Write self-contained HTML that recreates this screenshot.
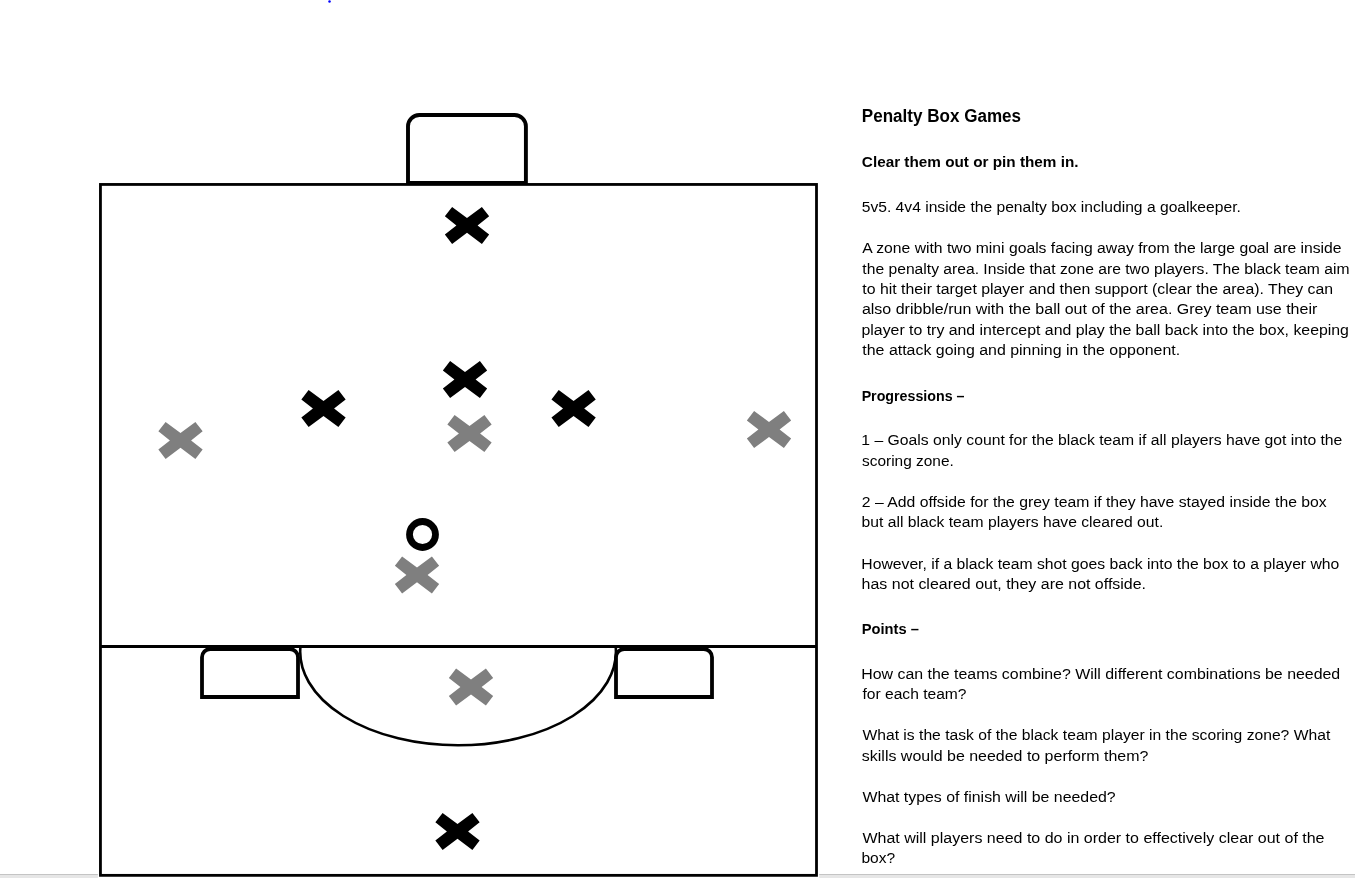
<!DOCTYPE html><html><head><meta charset="utf-8"><title>Penalty Box Games</title><style>
html,body{margin:0;padding:0;background:#fff;width:1355px;height:878px;overflow:hidden}
svg{position:absolute;left:0;top:0;display:block;will-change:transform}
text{font-family:"Liberation Sans",sans-serif;fill:#000}
.r{font-size:15.5px}.b{font-size:15.5px;font-weight:bold}.t{font-size:18px;font-weight:bold}
</style></head><body>
<svg width="1355" height="878" viewBox="0 0 1355 878">
<rect x="0" y="874" width="1355" height="4" fill="#e6e6e6"/>
<rect x="0" y="874" width="1355" height="1" fill="#c4c4c4"/>
<rect x="97.9" y="873" width="721.3" height="5" fill="#fff"/>
<circle cx="329.5" cy="1.6" r="1.25" fill="#0000ff"/>
<g fill="none" stroke="#000">
<rect x="100.45" y="184.45" width="716.05" height="690.9" stroke-width="2.8" fill="#fff"/>
<line x1="100" y1="646.4" x2="817" y2="646.4" stroke-width="3"/>
<path d="M300.44,646.4 A157.87,93.63 0 1 0 615.68,646.4" stroke-width="2.6"/>
<path d="M408.00,182.90 L408.00,126.30 A11.30,11.30 0 0 1 419.30,115.00 L514.60,115.00 A11.30,11.30 0 0 1 525.90,126.30 L525.90,182.90 Z" stroke-width="3.90" fill="#fff"/>
<path d="M202.00,697.00 L202.00,657.30 A8.30,8.30 0 0 1 210.30,649.00 L289.70,649.00 A8.30,8.30 0 0 1 298.00,657.30 L298.00,697.00 Z" stroke-width="3.80" fill="#fff"/>
<path d="M616.00,697.00 L616.00,657.30 A8.30,8.30 0 0 1 624.30,649.00 L703.70,649.00 A8.30,8.30 0 0 1 712.00,657.30 L712.00,697.00 Z" stroke-width="3.80" fill="#fff"/>
<circle cx="422.5" cy="534.5" r="13" stroke-width="6.8"/>
</g>
<path transform="translate(467.00,225.40)" d="M-22.15,-9.05 L-14.9,-18.5 L0,-7.45 L14.9,-18.5 L22.15,-9.05 L10.6,0 L22.15,9.05 L14.9,18.5 L0,7.45 L-14.9,18.5 L-22.15,9.05 L-10.6,0Z" fill="#000"/>
<path transform="translate(323.50,408.50)" d="M-22.15,-9.05 L-14.9,-18.5 L0,-7.45 L14.9,-18.5 L22.15,-9.05 L10.6,0 L22.15,9.05 L14.9,18.5 L0,7.45 L-14.9,18.5 L-22.15,9.05 L-10.6,0Z" fill="#000"/>
<path transform="translate(465.00,379.50)" d="M-22.15,-9.05 L-14.9,-18.5 L0,-7.45 L14.9,-18.5 L22.15,-9.05 L10.6,0 L22.15,9.05 L14.9,18.5 L0,7.45 L-14.9,18.5 L-22.15,9.05 L-10.6,0Z" fill="#000"/>
<path transform="translate(573.60,408.50)" d="M-22.15,-9.05 L-14.9,-18.5 L0,-7.45 L14.9,-18.5 L22.15,-9.05 L10.6,0 L22.15,9.05 L14.9,18.5 L0,7.45 L-14.9,18.5 L-22.15,9.05 L-10.6,0Z" fill="#000"/>
<path transform="translate(457.50,831.40)" d="M-22.15,-9.05 L-14.9,-18.5 L0,-7.45 L14.9,-18.5 L22.15,-9.05 L10.6,0 L22.15,9.05 L14.9,18.5 L0,7.45 L-14.9,18.5 L-22.15,9.05 L-10.6,0Z" fill="#000"/>
<path transform="translate(180.50,440.40)" d="M-22.15,-9.05 L-14.9,-18.5 L0,-7.45 L14.9,-18.5 L22.15,-9.05 L10.6,0 L22.15,9.05 L14.9,18.5 L0,7.45 L-14.9,18.5 L-22.15,9.05 L-10.6,0Z" fill="#7f7f7f"/>
<path transform="translate(469.50,433.50)" d="M-22.15,-9.05 L-14.9,-18.5 L0,-7.45 L14.9,-18.5 L22.15,-9.05 L10.6,0 L22.15,9.05 L14.9,18.5 L0,7.45 L-14.9,18.5 L-22.15,9.05 L-10.6,0Z" fill="#7f7f7f"/>
<path transform="translate(769.00,429.50)" d="M-22.15,-9.05 L-14.9,-18.5 L0,-7.45 L14.9,-18.5 L22.15,-9.05 L10.6,0 L22.15,9.05 L14.9,18.5 L0,7.45 L-14.9,18.5 L-22.15,9.05 L-10.6,0Z" fill="#7f7f7f"/>
<path transform="translate(417.00,574.90)" d="M-22.15,-9.05 L-14.9,-18.5 L0,-7.45 L14.9,-18.5 L22.15,-9.05 L10.6,0 L22.15,9.05 L14.9,18.5 L0,7.45 L-14.9,18.5 L-22.15,9.05 L-10.6,0Z" fill="#7f7f7f"/>
<path transform="translate(471.00,687.00)" d="M-22.15,-9.05 L-14.9,-18.5 L0,-7.45 L14.9,-18.5 L22.15,-9.05 L10.6,0 L22.15,9.05 L14.9,18.5 L0,7.45 L-14.9,18.5 L-22.15,9.05 L-10.6,0Z" fill="#7f7f7f"/>
<text class="t" x="861.81" y="122.00" textLength="159.21" lengthAdjust="spacingAndGlyphs">Penalty Box Games</text>
<text class="b" x="861.85" y="166.90" textLength="216.67" lengthAdjust="spacingAndGlyphs">Clear them out or pin them in.</text>
<text class="r" x="861.71" y="212.20" textLength="379.13" lengthAdjust="spacingAndGlyphs">5v5. 4v4 inside the penalty box including a goalkeeper.</text>
<text class="r" x="862.29" y="253.00" textLength="479.27" lengthAdjust="spacingAndGlyphs">A zone with two mini goals facing away from the large goal are inside</text>
<text class="r" x="862.39" y="273.50" textLength="487.12" lengthAdjust="spacingAndGlyphs">the penalty area. Inside that zone are two players. The black team aim</text>
<text class="r" x="862.35" y="294.00" textLength="470.82" lengthAdjust="spacingAndGlyphs">to hit their target player and then support (clear the area). They can</text>
<text class="r" x="861.92" y="314.30" textLength="455.40" lengthAdjust="spacingAndGlyphs">also dribble/run with the ball out of the area. Grey team use their</text>
<text class="r" x="861.49" y="334.70" textLength="487.46" lengthAdjust="spacingAndGlyphs">player to try and intercept and play the ball back into the box, keeping</text>
<text class="r" x="862.35" y="355.30" textLength="317.81" lengthAdjust="spacingAndGlyphs">the attack going and pinning in the opponent.</text>
<text class="b" x="861.64" y="401.00" textLength="102.90" lengthAdjust="spacingAndGlyphs">Progressions –</text>
<text class="r" x="861.31" y="445.00" textLength="481.09" lengthAdjust="spacingAndGlyphs">1 – Goals only count for the black team if all players have got into the</text>
<text class="r" x="862.05" y="465.70" textLength="91.73" lengthAdjust="spacingAndGlyphs">scoring zone.</text>
<text class="r" x="861.81" y="506.60" textLength="464.90" lengthAdjust="spacingAndGlyphs">2 – Add offside for the grey team if they have stayed inside the box</text>
<text class="r" x="861.59" y="527.40" textLength="301.68" lengthAdjust="spacingAndGlyphs">but all black team players have cleared out.</text>
<text class="r" x="861.34" y="568.50" textLength="477.99" lengthAdjust="spacingAndGlyphs">However, if a black team shot goes back into the box to a player who</text>
<text class="r" x="861.61" y="588.80" textLength="284.43" lengthAdjust="spacingAndGlyphs">has not cleared out, they are not offside.</text>
<text class="b" x="861.69" y="633.90" textLength="57.12" lengthAdjust="spacingAndGlyphs">Points –</text>
<text class="r" x="861.25" y="678.70" textLength="478.97" lengthAdjust="spacingAndGlyphs">How can the teams combine? Will different combinations be needed</text>
<text class="r" x="862.47" y="698.70" textLength="104.09" lengthAdjust="spacingAndGlyphs">for each team?</text>
<text class="r" x="862.45" y="740.00" textLength="467.84" lengthAdjust="spacingAndGlyphs">What is the task of the black team player in the scoring zone? What</text>
<text class="r" x="861.87" y="760.70" textLength="286.55" lengthAdjust="spacingAndGlyphs">skills would be needed to perform them?</text>
<text class="r" x="862.41" y="801.80" textLength="253.21" lengthAdjust="spacingAndGlyphs">What types of finish will be needed?</text>
<text class="r" x="862.40" y="842.60" textLength="462.13" lengthAdjust="spacingAndGlyphs">What will players need to do in order to effectively clear out of the</text>
<text class="r" x="861.47" y="863.40" textLength="33.74" lengthAdjust="spacingAndGlyphs">box?</text>
</svg></body></html>
